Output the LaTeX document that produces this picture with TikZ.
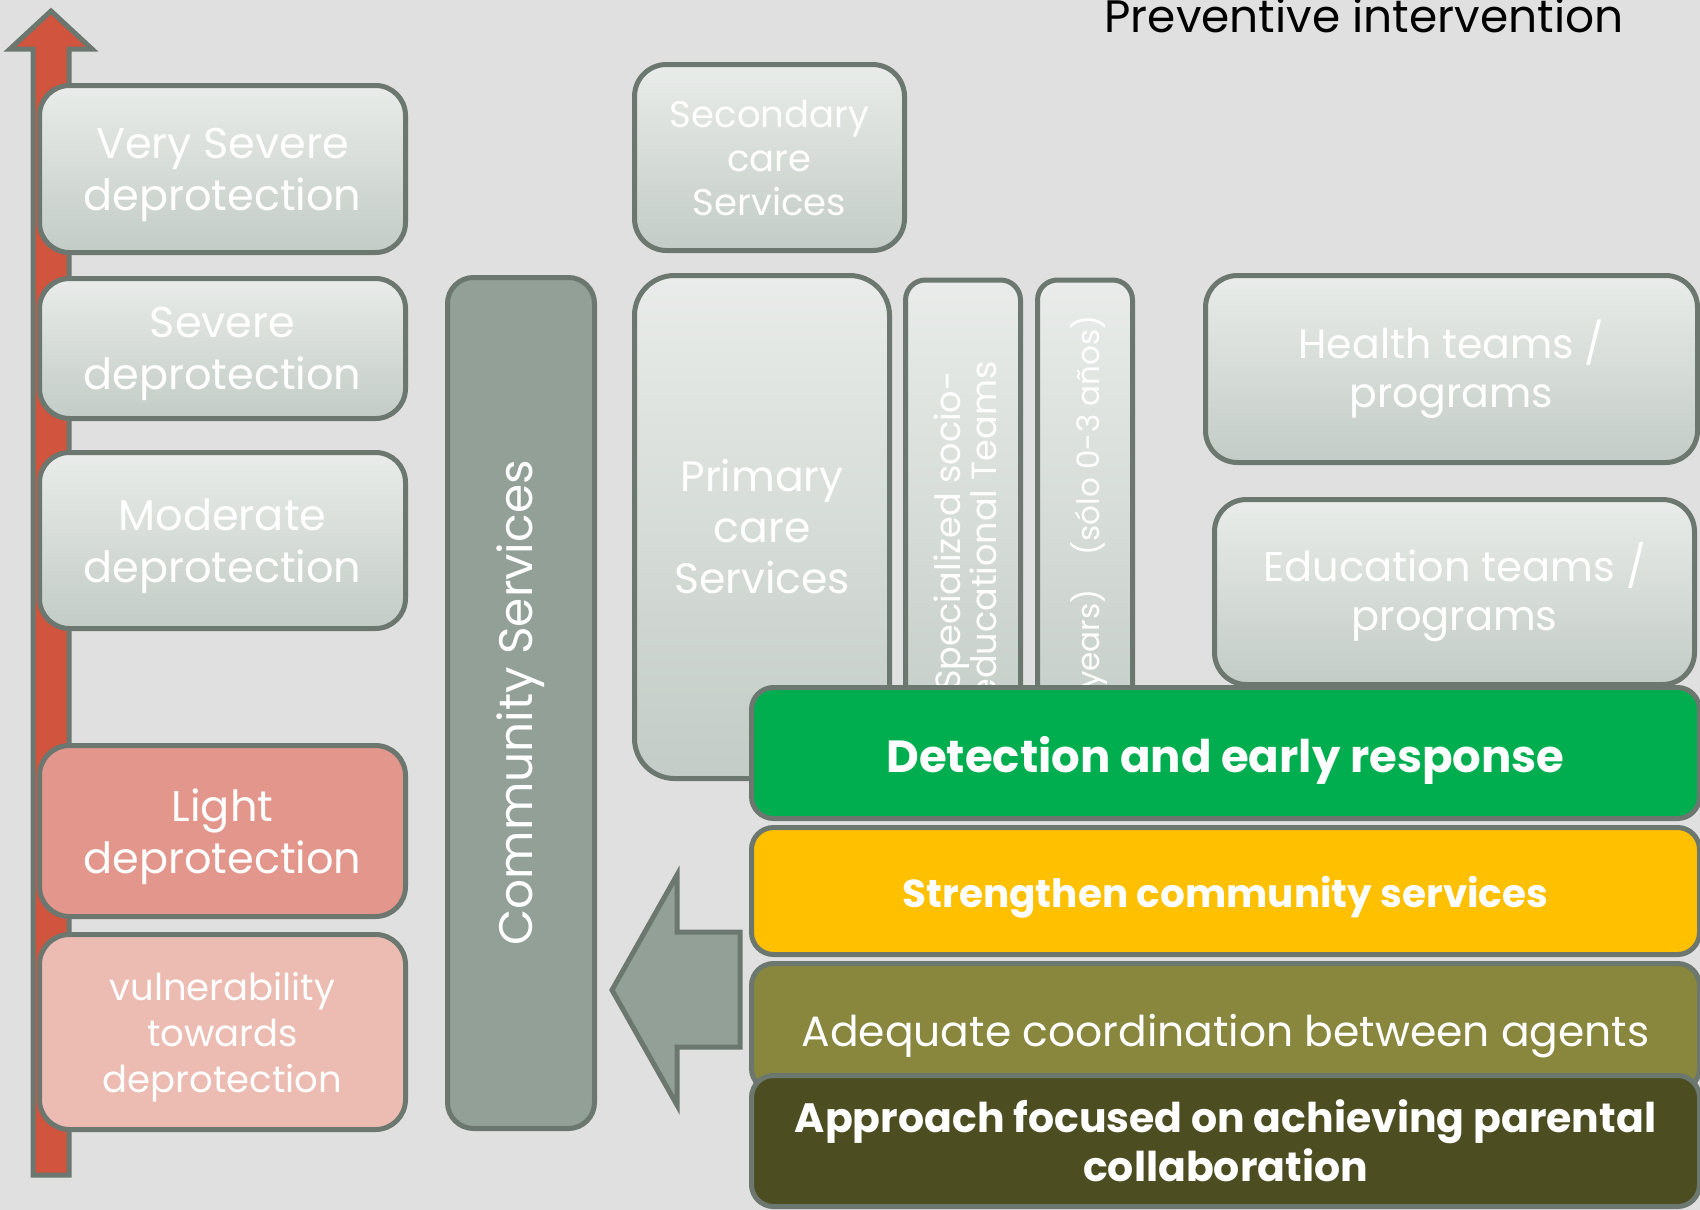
\documentclass[tikz,border=0pt]{standalone}
\usepackage{fontspec}
\setmainfont{Poppins}
\usepackage{xcolor}

\definecolor{bggray}{RGB}{224,224,224}
\definecolor{edge}{RGB}{107,119,111}
\definecolor{boxtop}{RGB}{233,236,234}
\definecolor{boxbot}{RGB}{195,204,198}
\definecolor{commfill}{RGB}{146,160,152}
\definecolor{arrowred}{RGB}{208,84,62}
\definecolor{lightred}{RGB}{226,150,140}
\definecolor{palered}{RGB}{236,188,178}
\definecolor{detgreen}{RGB}{0,174,80}
\definecolor{stryellow}{RGB}{255,192,0}
\definecolor{coordolive}{RGB}{137,134,61}
\definecolor{apprdark}{RGB}{76,77,33}

\begin{document}
\begin{tikzpicture}[x=1pt, y=-1pt,
  outline/.style={draw=edge, line width=5pt},
  level/.style={outline, rectangle, rounded corners=30pt, minimum width=366pt,
    text=white, align=center, font=\fontsize{43}{52}\selectfont,
    text depth=0pt, top color=boxtop, bottom color=boxbot},
  servbox/.style={outline, rectangle, rounded corners=32pt, text=white,
    align=center, top color=boxtop, bottom color=boxbot},
  bar/.style={outline, rectangle, rounded corners=22pt, minimum width=948pt,
    text=white, align=center}]
  \useasboundingbox (0,0) rectangle (1700,1210);
  \fill[bggray] (0,0) rectangle (1700,1210);

  % Severity arrow on the left
  \draw[outline, fill=arrowred] (33,1175) -- (33,49) -- (10,49) -- (51,11)
    -- (92,49) -- (69,49) -- (69,1175) -- cycle;

  % Levels of deprotection
  \node[level, minimum height=167pt] (vsev) at (222.5,169) {Very Severe\\deprotection};
  \node[level, minimum height=140pt] (sev) at (222.5,348.5) {Severe\\deprotection};
  \node[level, minimum height=176pt] (mod) at (222.5,540.5) {Moderate\\deprotection};
  \node[level, minimum height=171pt, top color=lightred, bottom color=lightred]
    (light) at (222.5,831) {Light\\deprotection};
  \node[level, minimum height=195pt, top color=palered, bottom color=palered,
    font=\fontsize{37}{46}\selectfont] (vuln) at (222.5,1032)
    {vulnerability\\towards\\deprotection};

  % Community services column
  \node[outline, rectangle, rounded corners=26pt, fill=commfill, rotate=90,
    minimum width=851pt, minimum height=147pt, text=white,
    font=\fontsize{47}{52}\selectfont] (comm) at (521,703) {Community Services};

  % Services and teams
  \node[servbox, minimum width=270pt, minimum height=186pt,
    font=\fontsize{37}{44}\selectfont] (second) at (769.5,157.5)
    {Secondary\\care\\Services};
  \node[servbox, rounded corners=40pt, minimum width=255pt, minimum height=503pt,
    font=\fontsize{42.5}{51}\selectfont] (prim) at (762,527)
    {Primary\\care\\Services};
  \node[servbox, rounded corners=20pt, minimum width=115pt, minimum height=480pt]
    (spec) at (963,520) {};
  \node[servbox, rounded corners=20pt, minimum width=95pt, minimum height=480pt]
    (early) at (1085,520) {};
  \node[rotate=90, anchor=east, text=white, align=center,
    font=\fontsize{35}{36}\selectfont] (spectext) at (965,358)
    {Specialized socio-\\educational Teams};
  \node[rotate=90, anchor=east, text=white,
    font=\fontsize{31}{34}\selectfont] (earlytext) at (1089,312)
    {years)\hspace{1.1em}(sólo 0-3 años)};
  \node[servbox, minimum width=492pt, minimum height=187pt,
    font=\fontsize{41}{49}\selectfont] (health) at (1451.5,369)
    {Health teams /\\programs};
  \node[servbox, minimum width=480pt, minimum height=185pt,
    font=\fontsize{41.5}{49}\selectfont] (educ) at (1454.5,592)
    {Education teams /\\programs};

  % Preventive intervention bars
  \node[bar, fill=detgreen, minimum height=131pt, text height=39pt, text depth=0pt,
    font=\bfseries\fontsize{45}{50}\selectfont] (detect) at (1225.5,753)
    {Detection and early response};
  \node[bar, fill=stryellow, minimum height=127pt, text height=32pt, text depth=0pt,
    font=\bfseries\fontsize{39}{44}\selectfont] (streng) at (1225.5,891)
    {Strengthen community services};
  \node[bar, fill=coordolive, minimum height=127pt, text height=38pt, text depth=0pt,
    font=\fontsize{42.4}{48}\selectfont] (adequ) at (1225.5,1027)
    {Adequate coordination between agents};
  \node[bar, fill=apprdark, minimum height=131pt,
    font=\bfseries\fontsize{41}{49}\selectfont] (appr) at (1225.5,1141)
    {Approach focused on achieving parental\\collaboration};

  % Block arrow towards community services
  \draw[outline, fill=commfill] (740,932) -- (677,932) -- (677,875) -- (612,990)
    -- (677,1105) -- (677,1047) -- (740,1047) -- cycle;

  \node[anchor=base, font=\fontsize{45.5}{50}\selectfont] (title) at (1364,32)
    {Preventive intervention};
\end{tikzpicture}
\end{document}
